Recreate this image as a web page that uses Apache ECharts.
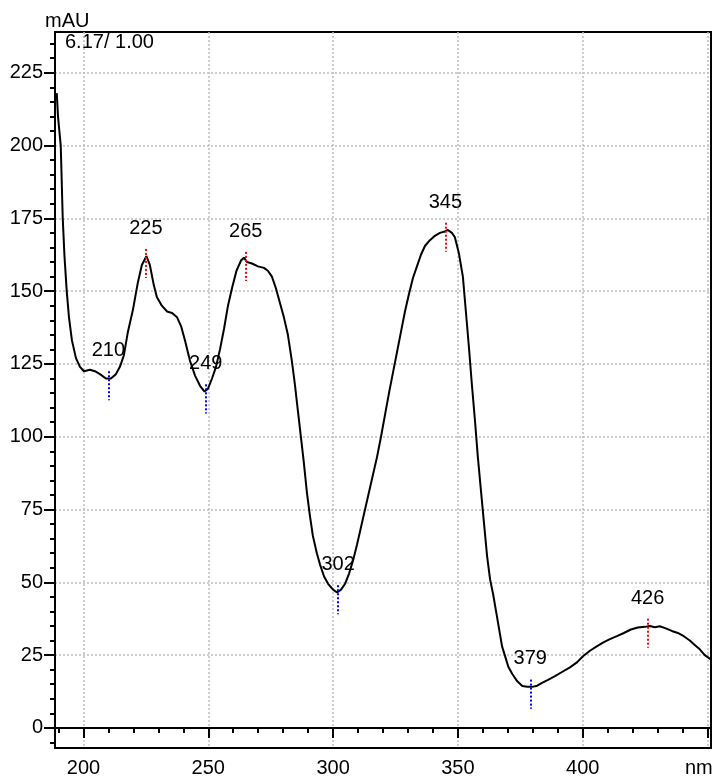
<!DOCTYPE html>
<html>
<head>
<meta charset="utf-8">
<script src="https://cdn.jsdelivr.net/npm/echarts@6/dist/echarts.min.js"></script>
<style>
html, body { margin: 0; padding: 0; background: #fff; }
#main { width: 717px; height: 780px; }
</style>
</head>
<body>
<div id="main"></div>
<script>
// spectrum (nm, mAU)
var wavelength = [189.3, 189.8, 190.9, 191.7, 192.4, 193.3, 194.2, 195.4, 197.0, 198.6,
    200.2, 202.6, 204.6, 206.6, 209.0, 211.0, 213.0, 214.6, 216.2, 217.8,
    219.8, 221.8, 223.4, 225.2, 226.6, 228.2, 229.4, 231.4, 233.5, 235.5,
    237.5, 239.1, 240.7, 242.7, 244.7, 246.7, 248.5, 249.9, 251.5, 253.1,
    254.7, 256.3, 257.9, 259.5, 261.3, 263.1, 264.3, 265.5, 267.5, 269.9,
    272.3, 273.9, 275.5, 277.1, 278.7, 280.3, 281.9, 283.5, 284.7, 285.9,
    287.1, 288.3, 289.5, 290.7, 291.9, 293.5, 294.8, 296.4, 298.0, 300.0,
    301.6, 303.2, 304.8, 306.4, 308.0, 309.6, 311.2, 312.8, 314.4, 316.0,
    317.6, 319.2, 320.8, 322.4, 324.0, 325.6, 327.2, 328.8, 330.4, 332.0,
    333.6, 335.2, 336.8, 338.8, 340.8, 342.8, 344.8, 346.0, 347.6, 348.8,
    350.4, 352.0, 353.2, 354.4, 355.6, 356.8, 358.0, 359.3, 360.5, 361.7,
    362.9, 364.1, 365.3, 366.5, 367.7, 369.0, 370.2, 371.8, 373.8, 375.8,
    377.8, 379.8, 381.8, 383.7, 386.1, 388.9, 391.7, 394.9, 397.7, 400.1,
    402.9, 405.3, 408.1, 410.9, 413.7, 416.5, 419.3, 422.1, 424.9, 426.9,
    428.9, 430.9, 433.3, 435.7, 438.1, 440.5, 442.9, 444.9, 446.9, 448.9,
    450.9, 452.0];
var absorbance = [218, 210, 200, 175, 162, 150, 141, 133, 127, 124,
    122.5, 123, 122.5, 121.5, 120, 120, 121.5, 124, 128, 136,
    143.5, 153, 159, 162, 159, 152, 148, 145, 143, 142.5,
    141, 138, 133, 126, 121, 117.5, 115.5, 116.5, 120, 124,
    130, 137, 145, 151, 157, 160.5, 161.5, 160, 159.5, 158.5,
    158, 157, 155, 151, 146, 141, 135, 126, 118, 109,
    100, 91, 81, 73, 66, 60, 56, 52, 49.5, 47.5,
    46.5, 47.5, 49.5, 53, 57.5, 63, 69, 75, 81, 87,
    93, 100, 107.5, 115, 122, 129, 136, 143, 149, 154.5,
    158.5, 162.5, 165.5, 167.5, 169, 170, 170.5, 171, 170, 168.5,
    163, 155, 143, 131, 118, 106, 93, 81, 70, 59,
    51, 46, 40, 34, 28, 24.4, 21, 18.5, 16, 14.4,
    14.1, 14.1, 14.5, 15.5, 16.5, 17.8, 19.2, 20.8, 22.5, 24.6,
    26.5, 27.8, 29.3, 30.5, 31.5, 32.6, 33.8, 34.5, 34.7, 35,
    34.6, 34.9, 34.2, 33.3, 32.6, 31.5, 30, 28.5, 27, 25,
    23.8, 23];

// annotated extrema
var peakNm = [210, 225, 249, 265, 302, 345, 379, 426];
var peakVal = [120, 162, 115.5, 161, 46.5, 171, 14.1, 35];
var peakKind = ['min', 'max', 'min', 'max', 'min', 'max', 'min', 'max'];

// ticks
var xMinorTicks = [190, 200, 210, 220, 230, 240, 250, 260, 270, 280, 290, 300, 310, 320,
    330, 340, 350, 360, 370, 380, 390, 400, 410, 420, 430, 440, 450];
var xMajorTicks = [200, 250, 300, 350, 400, 450];
var xTickLabels = [200, 250, 300, 350, 400];
var yMinorTicks = [-5, 0, 5, 10, 15, 20, 25, 30, 35, 40, 45, 50, 55, 60, 65, 70, 75, 80,
    85, 90, 95, 100, 105, 110, 115, 120, 125, 130, 135, 140, 145, 150, 155, 160, 165,
    170, 175, 180, 185, 190, 195, 200, 205, 210, 215, 220, 225, 230, 235];
var yMajorTicks = [0, 25, 50, 75, 100, 125, 150, 175, 200, 225];

var font = 'Liberation Sans, Arial, sans-serif';
var gridLine = { show: true, lineStyle: { color: '#bdbdbd', width: 1.5, type: [2, 2] } };

var curve = wavelength.map(function (nm, i) { return [nm, absorbance[i]]; });
var peakPts = peakNm.map(function (nm, i) { return [nm, peakVal[i]]; });
var peakMarks = peakNm.map(function (nm, i) {
    var c = peakKind[i] === 'max' ? '#ff0000' : '#0000ff';
    return [{ coord: [nm, peakVal[i] + 2.5], lineStyle: { color: c } },
            { coord: [nm, peakVal[i] - 7.5] }];
});

var dom = document.getElementById('main');
var myChart = echarts.init(dom);

var option = {
    animation: false,
    backgroundColor: '#fff',
    grid: { left: 55, right: 6, top: 32, bottom: 32, show: true, borderColor: '#000', borderWidth: 2 },
    xAxis: [{
        type: 'value', min: 188.6, max: 451.4,
        axisLine: { show: true, lineStyle: { color: '#000', width: 2 } },
        axisTick: { show: true, length: 5, customValues: xMinorTicks, lineStyle: { color: '#000', width: 2 } },
        axisLabel: { customValues: xTickLabels, margin: 10, color: '#000', fontSize: 20, fontFamily: font },
        splitLine: { show: false }
    }, {
        type: 'value', min: 188.6, max: 451.4, position: 'bottom',
        axisLine: { show: false },
        axisTick: { show: true, length: 10, customValues: xMajorTicks, lineStyle: { color: '#000', width: 2 } },
        axisLabel: { show: false },
        splitLine: gridLine
    }],
    yAxis: [{
        type: 'value', min: -6.9, max: 239,
        axisLine: { show: true, lineStyle: { color: '#000', width: 2 } },
        axisTick: { show: true, length: 5, customValues: yMinorTicks, lineStyle: { color: '#000', width: 2 } },
        axisLabel: { customValues: yMajorTicks, margin: 12, color: '#000', fontSize: 20, fontFamily: font },
        splitLine: { show: false }
    }, {
        type: 'value', min: -6.9, max: 239, position: 'left',
        axisLine: { show: false },
        axisTick: { show: true, length: 11, customValues: yMajorTicks, lineStyle: { color: '#000', width: 2 } },
        axisLabel: { show: false },
        splitLine: gridLine
    }],
    graphic: [
        { type: 'text', left: 45, top: 11, style: { text: 'mAU', fontSize: 20, fontFamily: font, fill: '#000' } },
        { type: 'text', left: 65, top: 32, style: { text: '6.17/ 1.00', fontSize: 20, fontFamily: font, fill: '#000' } },
        { type: 'text', left: 685, top: 758, style: { text: 'nm', fontSize: 20, fontFamily: font, fill: '#000' } }
    ],
    series: [{
        type: 'line',
        data: curve,
        showSymbol: false,
        lineStyle: { color: '#000', width: 2 },
        clip: true,
        z: 3,
        markLine: {
            silent: true,
            symbol: ['none', 'none'],
            label: { show: false },
            lineStyle: { type: 'dotted', width: 2 },
            data: peakMarks
        }
    }, {
        type: 'scatter',
        data: peakPts,
        symbolSize: 0,
        silent: true,
        itemStyle: { opacity: 1 },
        label: {
            show: true, position: 'top', distance: 18, opacity: 1,
            formatter: function (p) { return p.value[0]; },
            color: '#000', fontSize: 20, fontFamily: font
        }
    }]
};

if (option && typeof option === 'object') {
    myChart.setOption(option, true);
}
</script>
</body>
</html>
